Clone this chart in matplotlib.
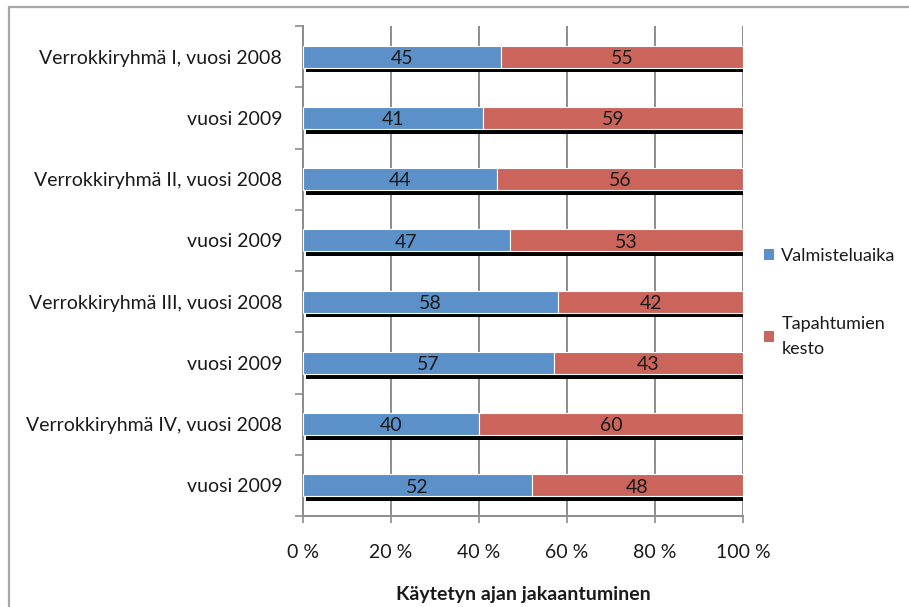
import matplotlib
matplotlib.use("Agg")
import matplotlib.pyplot as plt
import matplotlib.patheffects as pe
from matplotlib.patches import Rectangle

plt.rcParams['font.family'] = ['Lato', 'DejaVu Sans']

categories = [
    "Verrokkiryhmä I, vuosi 2008", "vuosi 2009",
    "Verrokkiryhmä II, vuosi 2008", "vuosi 2009",
    "Verrokkiryhmä III, vuosi 2008", "vuosi 2009",
    "Verrokkiryhmä IV, vuosi 2008", "vuosi 2009",
]
valmisteluaika = [45, 41, 44, 47, 58, 57, 40, 52]
tapahtumien_kesto = [55, 59, 56, 53, 42, 43, 60, 48]
series_names = ["Valmisteluaika", "Tapahtumien\nkesto"]
x_ticks = [0, 20, 40, 60, 80, 100]
x_tick_labels = ["0 %", "20 %", "40 %", "60 %", "80 %", "100 %"]
x_title = "Käytetyn ajan jakaantuminen"

blue = "#5B90C9"
red = "#CB655C"
grid_grey = "#8C8C8C"
text_col = "#1a1a1a"
fs = 14

fig = plt.figure(figsize=(9.09, 6.07), dpi=100)
W, H = 909, 607

# outer chart frame (open to the right and bottom)
fig.patches.append(Rectangle((9 / W, -0.1), 1.2, (H - 7) / H + 0.1,
                             transform=fig.transFigure, fill=False,
                             edgecolor="#A6A6A6", linewidth=1.6))

ax = fig.add_axes([303 / W, (H - 516) / H, 440 / W, 490 / H])

y = list(range(len(categories)))
shadow = [pe.SimplePatchShadow(offset=(2.0, -3.4), shadow_rgbFace="black",
                               alpha=1.0), pe.Normal()]

b1 = ax.barh(y, valmisteluaika, height=0.36, color=blue, edgecolor="white",
             linewidth=0.8, label=series_names[0], zorder=3)
b2 = ax.barh(y, tapahtumien_kesto, left=valmisteluaika, height=0.36, color=red,
             edgecolor="white", linewidth=0.8, label=series_names[1], zorder=3)
for bars in (b1, b2):
    for p in bars:
        p.set_path_effects(shadow)

for i in y:
    ax.text(valmisteluaika[i] / 2, i + 0.03, str(valmisteluaika[i]),
            ha="center", va="center", fontsize=fs, color=text_col, zorder=4)
    ax.text(valmisteluaika[i] + tapahtumien_kesto[i] / 2, i + 0.03,
            str(tapahtumien_kesto[i]), ha="center", va="center",
            fontsize=fs, color=text_col, zorder=4)

ax.set_xlim(0, 100)
ax.set_ylim(len(categories) - 0.5, -0.5)

ax.set_xticks(x_ticks)
ax.set_xticklabels(x_tick_labels, fontsize=fs, color=text_col)
ax.tick_params(axis="x", length=5, width=1.2, color=grid_grey, pad=15)
ax.xaxis.grid(True, color=grid_grey, linewidth=1.4, zorder=0)
ax.set_axisbelow(True)

ax.set_yticks([i - 0.5 for i in range(len(categories) + 1)])
ax.set_yticklabels([])
ax.set_yticks(y, minor=True)
ax.set_yticklabels(categories, minor=True, fontsize=fs, color=text_col)
ax.tick_params(axis="y", which="major", length=6, width=1.2, color=grid_grey)
ax.tick_params(axis="y", which="minor", length=0, pad=15)

for s in ("top", "right"):
    ax.spines[s].set_visible(False)
for s in ("left", "bottom"):
    ax.spines[s].set_color(grid_grey)
    ax.spines[s].set_linewidth(1.4)

ax.set_xlabel(x_title, fontsize=fs, fontweight="bold", labelpad=18,
              color=text_col)

leg = fig.legend(handles=[b1, b2], labels=series_names, loc="upper left",
                 bbox_to_anchor=(748 / W, (H - 232) / H), frameon=False,
                 fontsize=13, handlelength=0.55, handleheight=0.55,
                 handletextpad=0.4, labelspacing=2.85)
for t in leg.get_texts():
    t.set_linespacing(1.75)
    t.set_color(text_col)
for h in leg.legend_handles:
    h.set_path_effects([])
    h.set_edgecolor("none")

fig.savefig("out.png", dpi=100)
